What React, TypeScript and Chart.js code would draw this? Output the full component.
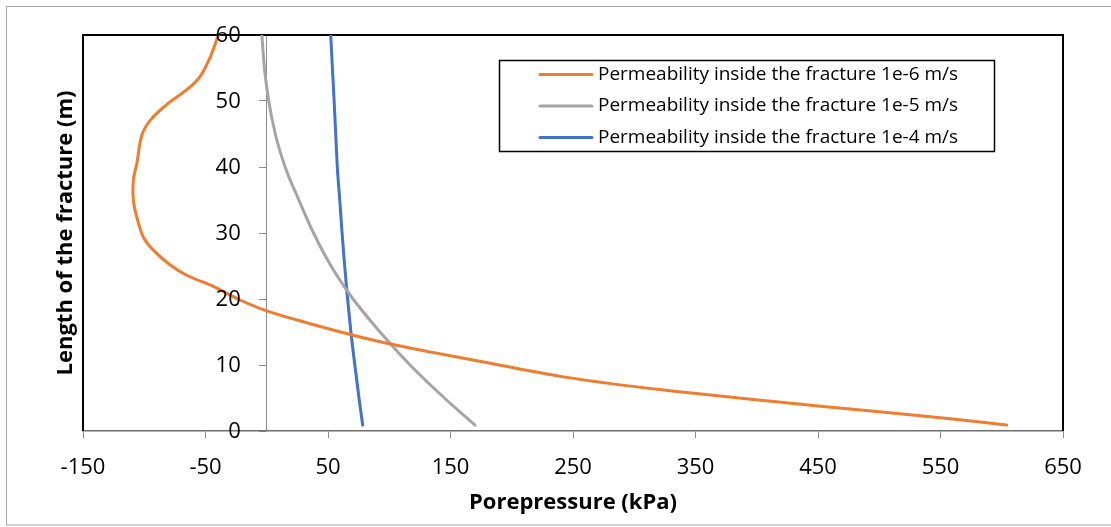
import React, { useEffect, useRef } from "react";
import { Chart, registerables } from "chart.js";

Chart.register(...registerables);

// ---- data ----
const seriesLabels = [
  "Permeability inside the fracture 1e-6 m/s",
  "Permeability inside the fracture 1e-5 m/s",
  "Permeability inside the fracture 1e-4 m/s",
];
const seriesColors = ["#ED7D31", "#A5A5A5", "#4472C4"];

// Permeability 1e-6 m/s (porepressure kPa, length m)
const pressure1e6 = [-39.5, -46, -54.5, -64, -82, -95, -102, -106, -108.9, -108.9, -106.2, -100.8, -92.6, -79, -65.3, -43.6, -21.8, 0, 32.6, 70.7, 97.9, 138.7, 176, 242, 324, 450, 550, 604];
const length1e6 = [60, 56.7, 53.7, 51.9, 49.4, 47.1, 44.8, 40.6, 38, 35, 32.5, 29.4, 27.4, 25.2, 23.6, 21.9, 19.85, 18.2, 16.4, 14.5, 13.3, 11.8, 10.5, 8.2, 6.2, 3.8, 2.0, 0.9];

// Permeability 1e-5 m/s
const pressure1e5 = [-4, -1.9, 1.6, 7, 15, 26.2, 38.2, 52.5, 70.5, 92.5, 117, 145, 170];
const length1e5 = [60, 55, 50, 45, 40, 35, 30, 25, 20, 15, 10, 5, 0.9];

// Permeability 1e-4 m/s
const pressure1e4 = [52.2, 53.6, 55, 56.3, 57.6, 59.6, 61.5, 63.6, 66.0, 68.7, 71.9, 75.3, 78.3];
const length1e4 = [60, 55, 50, 45, 40, 35, 30, 25, 20, 15, 10, 5, 0.9];

const xTickValues = [-150, -50, 50, 150, 250, 350, 450, 550, 650];
const yTickValues = [0, 10, 20, 30, 40, 50, 60];

const xTitle = "Porepressure (kPa)";
const yTitle = "Length of the fracture (m)";

const FONT = "'Open Sans', sans-serif";

const toPoints = (xs: number[], ys: number[]) => xs.map((x, i) => ({ x, y: ys[i] }));

const decorPlugin = {
  id: "decor",
  beforeDraw(chart: any) {
    const { ctx, width, height } = chart;
    ctx.save();
    ctx.fillStyle = "#ffffff";
    ctx.fillRect(0, 0, width, height);
    ctx.strokeStyle = "#a6a6a6";
    ctx.lineWidth = 1;
    ctx.strokeRect(6.5, 6.5, width + 20, height - 7.5 - 1);
    ctx.restore();
  },
  beforeDatasetsDraw(chart: any) {
    const { ctx, chartArea: a } = chart;
    ctx.save();
    ctx.strokeStyle = "#000000";
    ctx.lineWidth = 2;
    ctx.beginPath();
    ctx.moveTo(a.left, a.bottom);
    ctx.lineTo(a.left, a.top);
    ctx.lineTo(a.right, a.top);
    ctx.lineTo(a.right, a.bottom);
    ctx.stroke();
    ctx.restore();
  },
  afterDraw(chart: any) {
    const { ctx, chartArea: a, scales } = chart;
    ctx.save();
    // y tick labels, placed left of the y axis which crosses at x = 0
    const axisX = scales.x.getPixelForValue(0);
    ctx.font = `22px ${FONT}`;
    ctx.fillStyle = "#000000";
    ctx.textAlign = "right";
    ctx.textBaseline = "middle";
    scales.y.ticks.forEach((t: any) => {
      ctx.fillText(String(t.value), axisX - 26, scales.y.getPixelForValue(t.value) + 1);
    });
    // legend box
    const lx = 499.5, ly = 60.5, lw = 495, lh = 91;
    ctx.fillStyle = "#ffffff";
    ctx.fillRect(lx, ly, lw, lh);
    ctx.strokeStyle = "#000000";
    ctx.lineWidth = 1.5;
    ctx.strokeRect(lx, ly, lw, lh);
    ctx.font = `19px ${FONT}`;
    ctx.textBaseline = "middle";
    ctx.textAlign = "left";
    chart.data.datasets.forEach((ds: any, i: number) => {
      const y = 74.5 + i * 31.5;
      ctx.strokeStyle = ds.borderColor;
      ctx.lineWidth = 3;
      ctx.lineCap = "round";
      ctx.beginPath();
      ctx.moveTo(540, y);
      ctx.lineTo(592, y);
      ctx.stroke();
      ctx.fillStyle = "#000000";
      ctx.fillText(ds.label, 598, y);
    });
    // axis titles
    ctx.fillStyle = "#000000";
    ctx.font = `bold 22px ${FONT}`;
    ctx.textAlign = "center";
    ctx.textBaseline = "middle";
    ctx.fillText(xTitle, (a.left + a.right) / 2, 503);
    ctx.translate(66, (a.top + a.bottom) / 2);
    ctx.rotate(-Math.PI / 2);
    ctx.fillText(yTitle, 0, 0);
    ctx.restore();
  },
};

export default function App() {
  const canvasRef = useRef<HTMLCanvasElement | null>(null);

  useEffect(() => {
    if (!canvasRef.current) return;
    const mk = (i: number, xs: number[], ys: number[], monotone: boolean) => ({
      label: seriesLabels[i],
      data: toPoints(xs, ys),
      borderColor: seriesColors[i],
      backgroundColor: seriesColors[i],
      borderWidth: 3,
      borderCapStyle: "round" as const,
      borderJoinStyle: "round" as const,
      pointRadius: 0,
      showLine: true,
      tension: 0.35,
      cubicInterpolationMode: monotone ? ("monotone" as const) : ("default" as const),
      fill: false,
    });
    const chart = new Chart(canvasRef.current, {
      type: "scatter",
      data: {
        datasets: [
          mk(0, pressure1e6, length1e6, false),
          mk(1, pressure1e5, length1e5, true),
          mk(2, pressure1e4, length1e4, true),
        ],
      },
      options: {
        animation: false,
        responsive: false,
        layout: { padding: { left: 83, right: 48, top: 35, bottom: 0 } },
        plugins: {
          legend: { display: false },
          tooltip: { enabled: false },
        },
        scales: {
          x: {
            type: "linear",
            min: -150,
            max: 650,
            afterBuildTicks: (s: any) => {
              s.ticks = xTickValues.map((v) => ({ value: v }));
            },
            afterFit: (s: any) => {
              s.height = 96;
            },
            grid: { drawOnChartArea: false, drawTicks: true, tickLength: 7, color: "#8c8c8c" },
            border: { display: true, color: "#6e6e6e", width: 1.5 },
            ticks: {
              font: { family: FONT, size: 22 },
              color: "#000000",
              padding: 17,
              maxRotation: 0,
              autoSkip: false,
            },
          },
          y: {
            type: "linear",
            min: 0,
            max: 60,
            position: { x: 0 } as any,
            afterBuildTicks: (s: any) => {
              s.ticks = yTickValues.map((v) => ({ value: v }));
            },
            grid: { drawOnChartArea: false, drawTicks: true, tickLength: 7, color: "#8c8c8c" },
            border: { display: true, color: "#8c8c8c", width: 1 },
            ticks: {
              font: { family: FONT, size: 22 },
              color: "rgba(0,0,0,0)",
              padding: 19,
              autoSkip: false,
            },
          },
        },
      },
      plugins: [decorPlugin],
    });
    return () => chart.destroy();
  }, []);

  return (
    <div style={{ position: "absolute", left: 0, top: 0, width: 1111, height: 527, background: "#fff" }}>
      <canvas ref={canvasRef} width={1111} height={527} style={{ display: "block" }} />
    </div>
  );
}
